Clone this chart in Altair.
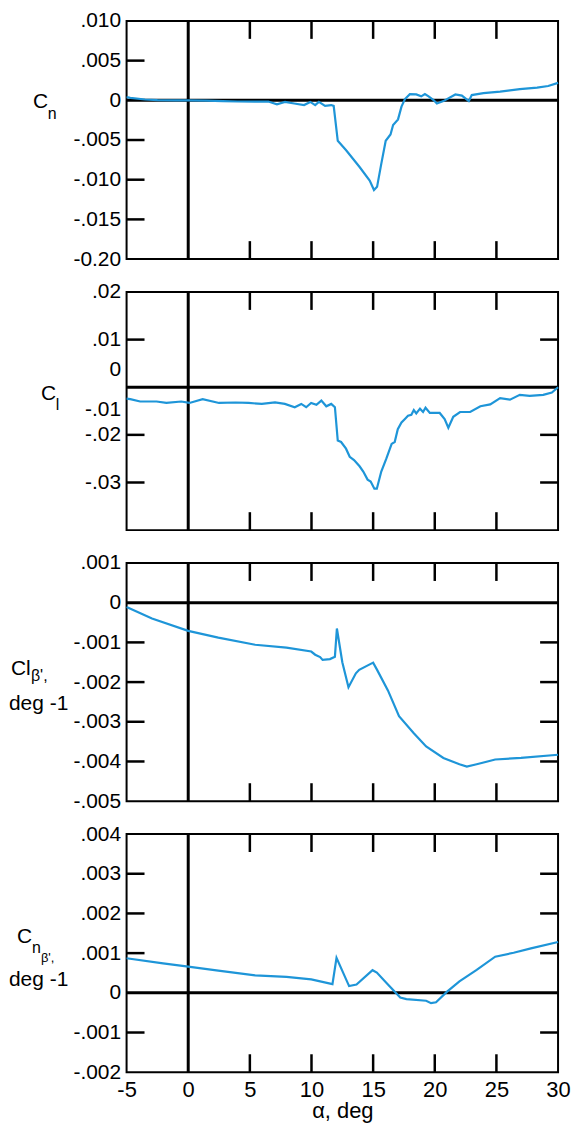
import altair as alt
import pandas as pd

# ---------------- data ----------------
alpha_cn = [-5, -4.7, -3.5, -2.5, -1, 0, 1.5, 2.8, 4, 5.4,
            6.5, 7.2, 7.85, 8.6, 9.4, 9.9, 10.3, 10.6, 11.1, 11.6,
            11.8, 12.13, 12.81, 13.9, 14.72, 15.07, 15.32, 15.66, 16.02, 16.41,
            16.62, 17.02, 17.3, 17.58, 17.98, 18.5, 18.9, 19.2, 19.5, 19.9,
            20.17, 20.7, 21.67, 22.2, 22.76, 23.0, 23.95, 25.3, 26.9, 28.3,
            29.2, 30]
cn = [0.0004, 0.0003, 0.0001, 0.00002, 0.0, 0.0, -0.00005, -0.0001, -0.00015, -0.00017,
      -0.00015, -0.0005, -0.0002, -0.0004, -0.0006, -0.0002, -0.0006, -0.0002, -0.0007, -0.0006,
      -0.0007, -0.0051, -0.0063, -0.0084, -0.0101, -0.0113, -0.0109, -0.0080, -0.0051, -0.0043,
      -0.0031, -0.0024, -0.0008, 0.00016, 0.00078, 0.00075, 0.0005, 0.0008, 0.0005, 0.00004,
      -0.0004, -0.0001, 0.00074, 0.0006, -0.0001, 0.00066, 0.0009, 0.0011, 0.0014, 0.0016,
      0.0018, 0.0022]

alpha_cl = [-5, -4.7, -3.9, -2.57, -1.77, -0.57, 0.1, 1.17, 2.5, 3.84,
            4.9, 5.97, 7.04, 7.84, 8.64, 9.17, 9.57, 9.97, 10.4, 10.8,
            11.2, 11.6, 11.9, 12.13, 12.4, 12.8, 13.1, 13.45, 13.9, 14.2,
            14.55, 14.8, 15.1, 15.3, 15.66, 16.07, 16.5, 16.75, 17.0, 17.3,
            17.56, 17.83, 18.1, 18.3, 18.5, 18.8, 19.05, 19.25, 19.6, 20.4,
            20.8, 21.1, 21.5, 22.05, 22.87, 23.7, 24.5, 25.3, 26.1, 26.9,
            27.7, 28.8, 29.5, 30]
cl = [-0.0024, -0.0025, -0.0030, -0.0030, -0.0033, -0.0030, -0.0033, -0.0025, -0.0033, -0.0032,
      -0.0033, -0.0035, -0.0032, -0.0035, -0.0042, -0.0035, -0.0042, -0.0033, -0.0037, -0.0028,
      -0.0040, -0.0035, -0.0042, -0.0112, -0.0115, -0.0129, -0.0146, -0.0153, -0.0166, -0.0177,
      -0.0194, -0.0198, -0.0213, -0.0213, -0.0177, -0.0150, -0.0119, -0.0115, -0.0088, -0.0074,
      -0.0067, -0.0060, -0.0058, -0.0048, -0.0055, -0.0045, -0.0052, -0.0043, -0.0054, -0.0054,
      -0.0067, -0.0085, -0.0062, -0.0052, -0.0052, -0.0040, -0.0036, -0.0023, -0.0026, -0.0016,
      -0.0018, -0.0016, -0.0011, 0.0]

alpha_clb = [-5, -2.94, 0, 2.44, 5.43, 7.97, 9.98, 10.3, 10.7, 10.9,
             11.5, 11.9, 12.06, 12.5, 13.0, 13.6, 13.87, 15.0, 15.3, 16.2,
             17.1, 18.3, 19.3, 20.7, 22.0, 22.6, 23.4, 24.9, 27.0, 30]
clb = [-0.00011, -0.0004, -0.00071, -0.00088, -0.00106, -0.00113, -0.00123, -0.00131, -0.00137, -0.00144,
       -0.00142, -0.00136, -0.00065, -0.0015, -0.00213, -0.00178, -0.00169, -0.00151, -0.00168, -0.00221,
       -0.00286, -0.00329, -0.00362, -0.00391, -0.00407, -0.00413, -0.00407, -0.00395, -0.00391, -0.00383]

alpha_cnb = [-5, -2.04, 0, 2.44, 5.43, 7.97, 9.98, 11.7, 12.03, 13.05,
             13.65, 14.95, 15.3, 16.2, 17.2, 17.7, 19.3, 19.7, 20.1, 21.0,
             22.0, 23.4, 24.9, 26.4, 27.8, 30]
cnb = [0.00087, 0.00074, 0.00066, 0.00056, 0.00044, 0.0004, 0.00034, 0.00022, 0.00088, 0.00017,
       0.00021, 0.00057, 0.00051, 0.00021, -0.00012, -0.00016, -0.0002, -0.00026, -0.00024, 0.00003,
       0.00029, 0.00058, 0.00091, 0.00101, 0.00112, 0.00128]

# axis label positions / texts (as printed on the original figure)
cn_lab_vals = [0.010, 0.005, 0.0, -0.005, -0.010, -0.015, -0.020]
cn_lab_txt = [".010", ".005", "0", "-.005", "-.010", "-.015", "-0.20"]
cn_ticks_l = [0.005, -0.005, -0.010, -0.015]
cn_ticks_r = []

cl_lab_vals = [0.02, 0.01, 0.0038, -0.0046, -0.01, -0.02]
cl_lab_txt = [".02", ".01", "0", "-.01", "-.02", "-.03"]
cl_ticks_l = [0.01, -0.01, -0.02]
cl_ticks_r = [0.01, -0.01, -0.02]

clb_lab_vals = [0.001, 0.0, -0.001, -0.002, -0.003, -0.004, -0.005]
clb_lab_txt = [".001", "0", "-.001", "-.002", "-.003", "-.004", "-.005"]
clb_ticks = [-0.001, -0.002, -0.003, -0.004]

cnb_lab_vals = [0.004, 0.003, 0.002, 0.001, 0.0, -0.001, -0.002]
cnb_lab_txt = [".004", ".003", ".002", ".001", "0", "-.001", "-.002"]
cnb_ticks = [0.003, 0.002, 0.001, -0.001]

x_label_vals = [-5, 0, 5, 10, 15, 20, 25, 30]
x_tick_vals = [5, 10, 15, 20, 25]
x_title = "α, deg"

# y-axis titles: pieces of text (main symbol, subscripts, unit line)
title_cn = ["C", "n"]
title_cl = ["C", "l"]
title_clb = ["Cl", "β',", "deg -1"]
title_cnb = ["C", "n", "β',", "deg -1"]

# ---------------- styling ----------------
W = 433
H = 239
TICK = 18
FONT = "Liberation Sans"
BLUE = "#1E95D8"
FS_MAIN = 21
FS_SUB = 16
FS_SUB2 = 13


def lexpr(vals, texts):
    parts = [f"abs(datum.value - ({v})) < 1e-7 ? '{t}'" for v, t in zip(vals, texts)]
    return " : ".join(parts) + " : ''"


def title_piece(text, px, py, size):
    return (alt.Chart(pd.DataFrame({"t": [text]}))
            .mark_text(align="left", baseline="alphabetic", font=FONT, fontSize=size,
                       color="black")
            .encode(text="t:N", x=alt.value(px), y=alt.value(py)))


def panel(alpha, vals, ydom, lab_vals, lab_txt, lticks, rticks, pieces, height, bottom=False):
    xs = alt.Scale(domain=[-5, 30], nice=False, zero=False)
    ys = alt.Scale(domain=ydom, nice=False, zero=False)
    if bottom:
        xaxis = alt.Axis(values=x_label_vals, labelExpr="'' + datum.value", tickCount=40,
                         title=x_title, labelPadding=7, titlePadding=0,
                         labelFontSize=22, titleFontSize=22, labelFlush=False,
                         labelOverlap=False)
        xother = alt.Undefined
    else:
        xaxis = None
        xother = None
    yaxis = alt.Axis(values=lab_vals, labelExpr=lexpr(lab_vals, lab_txt), title=None,
                     tickCount=40, labelFlush=False, labelOverlap=False)

    layers = []
    layers.append(alt.Chart(pd.DataFrame({"a": alpha, "v": vals}))
                  .mark_line(color=BLUE, strokeWidth=2.2)
                  .encode(x=alt.X("a:Q", scale=xs, axis=xaxis),
                          y=alt.Y("v:Q", scale=ys, axis=yaxis)))
    layers.append(alt.Chart(pd.DataFrame({"v": [0.0]})).mark_rule(color="black", strokeWidth=3)
                  .encode(y=alt.Y("v:Q", scale=ys)))
    layers.append(alt.Chart(pd.DataFrame({"a": [0.0]})).mark_rule(color="black", strokeWidth=3)
                  .encode(x=alt.X("a:Q", scale=xs, axis=xother)))
    if lticks:
        layers.append(alt.Chart(pd.DataFrame({"v": lticks})).mark_rule(color="black", strokeWidth=2.5)
                      .encode(y=alt.Y("v:Q", scale=ys), x=alt.value(0), x2=alt.value(TICK)))
    if rticks:
        layers.append(alt.Chart(pd.DataFrame({"v": rticks})).mark_rule(color="black", strokeWidth=2.5)
                      .encode(y=alt.Y("v:Q", scale=ys), x=alt.value(W - TICK), x2=alt.value(W)))
    layers.append(alt.Chart(pd.DataFrame({"a": x_tick_vals})).mark_rule(color="black", strokeWidth=2.5)
                  .encode(x=alt.X("a:Q", scale=xs, axis=xother), y=alt.value(0), y2=alt.value(TICK)))
    layers.append(alt.Chart(pd.DataFrame({"a": x_tick_vals})).mark_rule(color="black", strokeWidth=2.5)
                  .encode(x=alt.X("a:Q", scale=xs, axis=xother), y=alt.value(height - TICK),
                          y2=alt.value(height)))
    # draw the curve on top of the black reference lines, then the title pieces
    layers = layers[1:] + layers[:1] + pieces
    return alt.layer(*layers).properties(width=W, height=height)


p1 = panel(alpha_cn, cn, [-0.020, 0.010], cn_lab_vals, cn_lab_txt, cn_ticks_l, cn_ticks_r,
           [title_piece(title_cn[0], -94, 87, FS_MAIN),
            title_piece(title_cn[1], -79, 98, FS_SUB)], H)
p2 = panel(alpha_cl, cl, [-0.03, 0.02], cl_lab_vals, cl_lab_txt, cl_ticks_l, cl_ticks_r,
           [title_piece(title_cl[0], -86, 108, FS_MAIN),
            title_piece(title_cl[1], -71, 118, FS_SUB)], H)
p3 = panel(alpha_clb, clb, [-0.005, 0.001], clb_lab_vals, clb_lab_txt, clb_ticks, clb_ticks,
           [title_piece(title_clb[0], -116, 112, FS_MAIN),
            title_piece(title_clb[1], -96, 118, FS_SUB),
            title_piece(title_clb[2], -118, 148, FS_MAIN)], H)
p4 = panel(alpha_cnb, cnb, [-0.002, 0.004], cnb_lab_vals, cnb_lab_txt, cnb_ticks, cnb_ticks,
           [title_piece(title_cnb[0], -110, 109, FS_MAIN),
            title_piece(title_cnb[1], -95, 119, FS_SUB),
            title_piece(title_cnb[2], -86, 128, FS_SUB2),
            title_piece(title_cnb[3], -118, 152, FS_MAIN)], H, bottom=True)

chart = (
    alt.vconcat(p1, p2, p3, p4, spacing=33, bounds="flush")
    .properties(padding={"left": 0, "top": -1, "right": 0, "bottom": 0})
    .configure_view(stroke="black", strokeWidth=2)
    .configure_axis(domain=False, ticks=False, grid=False,
                    labelFont=FONT, labelFontSize=21, labelColor="black", labelPadding=6,
                    titleFont=FONT, titleFontSize=22, titleFontWeight="normal",
                    titleColor="black")
)

chart.save("out.html", embed_options={"renderer": "svg", "actions": False})
